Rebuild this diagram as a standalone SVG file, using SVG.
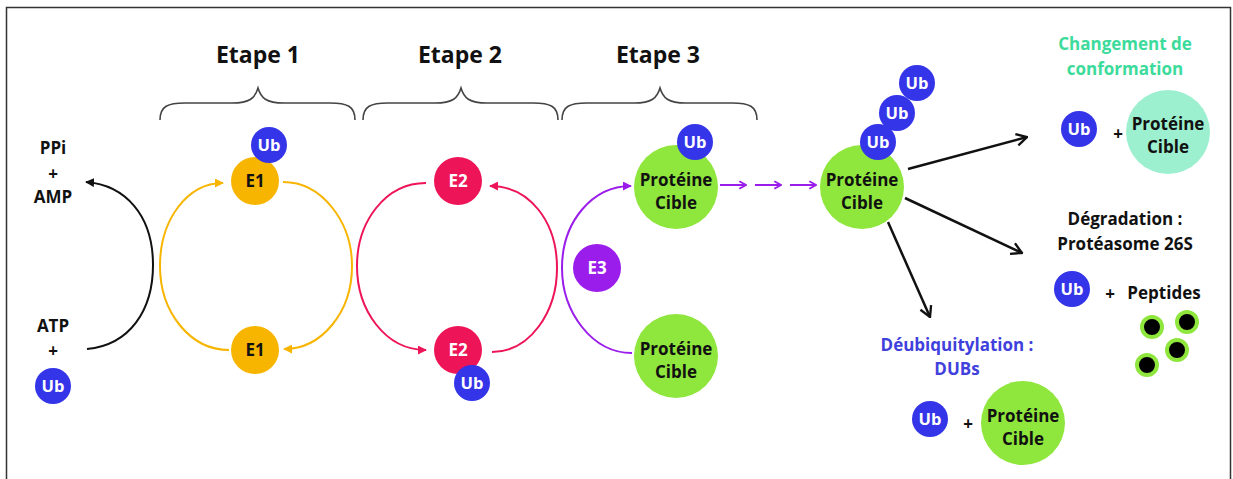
<svg xmlns="http://www.w3.org/2000/svg" width="1233" height="479" viewBox="0 0 1233 479">
<style>
text{font-family:"Open Sans","Liberation Sans",sans-serif;font-weight:bold;text-anchor:middle}
.t{font-size:23px;fill:#111}
.lbl{font-size:17px;fill:#111}
.w{font-size:16.5px;fill:#fff}
.k{font-size:17px;fill:#111}
.ub{fill:#3434E8}
.pc{fill:#8FE63C}
.brace{fill:none;stroke:#444;stroke-width:1.6}
.arc{fill:none;stroke-width:2}
</style>
<defs>
<marker id="my" viewBox="0 0 10 10" refX="9" refY="5" markerWidth="9" markerHeight="9" markerUnits="userSpaceOnUse" orient="auto"><path d="M0,0 L10,5 L0,10 Z" fill="#F7B500"/></marker>
<marker id="mp" viewBox="0 0 10 10" refX="9" refY="5" markerWidth="9" markerHeight="9" markerUnits="userSpaceOnUse" orient="auto"><path d="M0,0 L10,5 L0,10 Z" fill="#EE1458"/></marker>
<marker id="mu" viewBox="0 0 10 10" refX="9" refY="5" markerWidth="9" markerHeight="9" markerUnits="userSpaceOnUse" orient="auto"><path d="M0,0 L10,5 L0,10 Z" fill="#9B1DEB"/></marker>
<marker id="mk" viewBox="0 0 10 10" refX="9" refY="5" markerWidth="9" markerHeight="9" markerUnits="userSpaceOnUse" orient="auto"><path d="M0,0 L10,5 L0,10 Z" fill="#111"/></marker>
<marker id="mc" viewBox="0 0 12 12" refX="11" refY="6" markerWidth="14" markerHeight="14" markerUnits="userSpaceOnUse" orient="auto"><path d="M2,1 L11,6 L2,11" fill="none" stroke="#111" stroke-width="2"/></marker>
<marker id="mv" viewBox="0 0 12 12" refX="11" refY="6" markerWidth="10" markerHeight="10" markerUnits="userSpaceOnUse" orient="auto"><path d="M3,1.5 L11,6 L3,10.5" fill="none" stroke="#9B1DEB" stroke-width="2.4"/></marker>
</defs>
<rect x="6.5" y="7.5" width="1224" height="480" fill="#fff" stroke="#333" stroke-width="1.5"/>

<g id="titles">
<text class="t" x="258" y="63">Etape 1</text>
<text class="t" x="460" y="63">Etape 2</text>
<text class="t" x="658" y="63">Etape 3</text>
</g>
<g id="braces">
<path class="brace" d="M160,120 C160,106 168,103 185,103 L232,103 C250,103 255,98 258,88 C261,98 266,103 284,103 L330,103 C347,103 355,106 355,120"/>
<path class="brace" d="M363,120 C363,106 371,103 388,103 L435,103 C453,103 458,98 461,88 C464,98 469,103 487,103 L533,103 C550,103 558,106 558,120"/>
<path class="brace" d="M562,120 C562,106 570,103 587,103 L634,103 C652,103 657,98 660,88 C663,98 668,103 686,103 L732,103 C749,103 757,106 757,120"/>
</g>

<g id="connectors">
<path class="arc" stroke="#111" stroke-width="2.5" d="M87,349 C130,345 153,310 153,265 C153,215 125,185 86,182" marker-end="url(#mk)"/>
<path class="arc" stroke="#F7B500" d="M229,350 C190,350 160,312 160,266 C160,220 187,183 223,183" marker-end="url(#my)"/>
<path class="arc" stroke="#F7B500" d="M283,182 C322,182 352,222 352,266 C352,312 322,349 284,349" marker-end="url(#my)"/>
<path class="arc" stroke="#EE1458" d="M426,183 C385,183 357,222 357,266 C357,310 385,350 426,350" marker-end="url(#mp)"/>
<path class="arc" stroke="#EE1458" d="M492,352 C530,352 557,312 557,268 C557,222 530,186 490,186" marker-end="url(#mp)"/>
<path class="arc" stroke="#9B1DEB" d="M632,353 C592,353 562,312 562,268 C562,222 592,186 631,186" marker-end="url(#mu)"/>
<path stroke="#9B1DEB" stroke-width="2" d="M720,185 L746,185" marker-end="url(#mv)"/>
<path stroke="#9B1DEB" stroke-width="2" d="M755,185 L781,185" marker-end="url(#mv)"/>
<path stroke="#9B1DEB" stroke-width="2" d="M790,185 L816,185" marker-end="url(#mv)"/>
<path stroke="#111" stroke-width="2.5" d="M908,169 L1027,137" marker-end="url(#mc)"/>
<path stroke="#111" stroke-width="2.5" d="M905,198 L1022,253" marker-end="url(#mc)"/>
<path stroke="#111" stroke-width="2.5" d="M888,222 L930,317" marker-end="url(#mc)"/>
</g>

<g id="ppi-amp">
<text class="lbl" x="53" y="154">PPi</text>
<text class="lbl" x="53" y="180">+</text>
<text class="lbl" x="53" y="203">AMP</text>
</g>
<g id="atp-ub">
<text class="lbl" x="53" y="332">ATP</text>
<text class="lbl" x="53" y="357">+</text>
<circle class="ub" cx="53" cy="386" r="18"/>
<text class="w" x="53" y="392">Ub</text>
</g>

<g id="e1-top">
<circle cx="255" cy="181" r="24" fill="#F7B500"/>
<text class="k" x="255" y="187">E1</text>
<circle class="ub" cx="269" cy="145" r="18"/>
<text class="w" x="269" y="151">Ub</text>
</g>
<g id="e1-bottom">
<circle cx="255" cy="350" r="24" fill="#F7B500"/>
<text class="k" x="255" y="356">E1</text>
</g>
<g id="e2-top">
<circle cx="458" cy="181" r="24" fill="#EE1458"/>
<text class="w" x="458" y="187" style="font-size:17px">E2</text>
</g>
<g id="e2-bottom">
<circle cx="458" cy="350" r="24" fill="#EE1458"/>
<text class="w" x="458" y="356" style="font-size:17px">E2</text>
<circle class="ub" cx="472" cy="383" r="18"/>
<text class="w" x="472" y="389">Ub</text>
</g>
<g id="e3">
<circle cx="597" cy="268" r="24" fill="#9B1DEB"/>
<text class="w" x="597" y="274" style="font-size:17px">E3</text>
</g>
<g id="cible-ub">
<circle class="pc" cx="676" cy="187" r="42"/>
<text class="k" x="676" y="186">Protéine</text>
<text class="k" x="676" y="209">Cible</text>
<circle class="ub" cx="695" cy="142" r="18"/>
<text class="w" x="695" y="148">Ub</text>
</g>
<g id="cible">
<circle class="pc" cx="676" cy="356" r="42"/>
<text class="k" x="676" y="355">Protéine</text>
<text class="k" x="676" y="378">Cible</text>
</g>
<g id="cible-polyub">
<circle class="pc" cx="862" cy="187" r="42"/>
<text class="k" x="862" y="186">Protéine</text>
<text class="k" x="862" y="209">Cible</text>
<circle class="ub" cx="917" cy="83" r="18"/>
<text class="w" x="917" y="89">Ub</text>
<circle class="ub" cx="897" cy="113" r="18"/>
<text class="w" x="897" y="119">Ub</text>
<circle class="ub" cx="878" cy="142" r="18"/>
<text class="w" x="878" y="148">Ub</text>
</g>

<g id="conformation">
<text class="lbl" x="1125" y="50" style="fill:#3CDB9B">Changement de</text>
<text class="lbl" x="1125" y="75" style="fill:#3CDB9B">conformation</text>
<circle class="ub" cx="1079" cy="129" r="18"/>
<text class="w" x="1079" y="135">Ub</text>
<text class="lbl" x="1118" y="140">+</text>
<circle cx="1168" cy="132" r="42" fill="#9CF0CF"/>
<text class="k" x="1168" y="130">Protéine</text>
<text class="k" x="1168" y="153">Cible</text>
</g>
<g id="degradation">
<text class="lbl" x="1125" y="225">Dégradation :</text>
<text class="lbl" x="1125" y="250">Protéasome 26S</text>
<circle class="ub" cx="1072" cy="289" r="18"/>
<text class="w" x="1072" y="295">Ub</text>
<text class="lbl" x="1110" y="300">+</text>
<text class="lbl" x="1164" y="299">Peptides</text>
<g fill="#000" stroke="#8FE63C" stroke-width="4">
<circle cx="1152" cy="327" r="10"/>
<circle cx="1187" cy="322" r="10"/>
<circle cx="1177" cy="350" r="10"/>
<circle cx="1147" cy="365" r="10"/>
</g>
</g>
<g id="dubs">
<text class="lbl" x="957" y="351" style="fill:#4040DD">Déubiquitylation :</text>
<text class="lbl" x="957" y="375" style="fill:#4040DD">DUBs</text>
<circle class="ub" cx="930" cy="419" r="18"/>
<text class="w" x="930" y="425">Ub</text>
<text class="lbl" x="968" y="430">+</text>
<circle class="pc" cx="1023" cy="423" r="42"/>
<text class="k" x="1023" y="422">Protéine</text>
<text class="k" x="1023" y="445">Cible</text>
</g>
</svg>
